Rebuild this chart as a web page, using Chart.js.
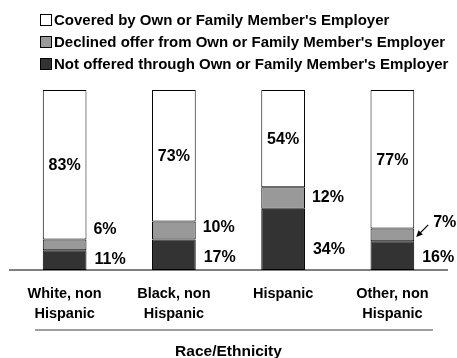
<!DOCTYPE html>
<html>
<head>
<meta charset="utf-8">
<script src="https://cdn.jsdelivr.net/npm/chart.js@4.4.1/dist/chart.umd.min.js"></script>
<style>
  html, body { margin: 0; padding: 0; background: #fff; }
</style>
</head>
<body>
<canvas id="chart" width="457" height="358"></canvas>
<script>
// coverage by race / ethnicity, percent
const categories = [['White, non', 'Hispanic'], ['Black, non', 'Hispanic'], 'Hispanic', ['Other, non', 'Hispanic']];
const notOffered = [11, 17, 34, 16];
const declined = [6, 10, 12, 7];
const covered = [83, 73, 54, 77];
const seriesNames = [
  "Covered by Own or Family Member's Employer",
  "Declined offer from Own or Family Member's Employer",
  "Not offered through Own or Family Member's Employer"
];
const arrowFor = [3]; // small segment whose label needs a pointer

const FONT = "'Liberation Sans', Arial, Helvetica, sans-serif";
const WHITE = '#ffffff', GRAY = '#999999', DARK = '#333333';

// legend block at the top, one row per series
const legendRows = {
  id: 'legendRows',
  afterDraw(chart) {
    const ctx = chart.ctx;
    const colors = [WHITE, GRAY, DARK];
    ctx.save();
    ctx.font = 'bold 15px ' + FONT;
    ctx.textBaseline = 'middle';
    seriesNames.forEach((name, i) => {
      const y = 20 + i * 22;
      ctx.fillStyle = colors[i];
      ctx.fillRect(40.5, y - 5.5, 11, 11);
      ctx.strokeStyle = '#000';
      ctx.lineWidth = 1;
      ctx.strokeRect(40.5, y - 5.5, 11, 11);
      ctx.fillStyle = '#000';
      ctx.fillText(name, 54, y + 1);
    });
    ctx.restore();
  }
};

// percent labels: inside the top segment, to the right of the lower two
const valueLabels = {
  id: 'valueLabels',
  afterDatasetsDraw(chart) {
    const ctx = chart.ctx;
    const dark = chart.getDatasetMeta(0).data;
    const gray = chart.getDatasetMeta(1).data;
    const white = chart.getDatasetMeta(2).data;
    ctx.save();
    ctx.font = 'bold 16px ' + FONT;
    ctx.fillStyle = '#000';
    ctx.textBaseline = 'middle';
    categories.forEach((c, i) => {
      const w = white[i];
      ctx.textAlign = 'center';
      ctx.fillText(covered[i] + '%', w.x, (w.y + w.base) / 2 + 1);

      const d = dark[i], g = gray[i];
      const right = d.x + d.width / 2;
      const dy = ((d.y + d.base) / 2 + d.base - 10) / 2;
      let gy = (g.y + g.base) / 2;
      if (dy - gy < 30) gy = dy - 30;
      const arrow = arrowFor.includes(i);
      if (arrow) gy -= 5;
      const gx = right + (arrow ? 19 : 7);
      ctx.textAlign = 'left';
      ctx.fillText(notOffered[i] + '%', right + 8, dy);
      ctx.fillText(declined[i] + '%', gx, gy);

      if (arrow) {
        const x0 = gx - 5, y0 = gy + 2;
        const x1 = right + 2, y1 = (g.y + g.base) / 2 + 2;
        const a = Math.atan2(y1 - y0, x1 - x0);
        ctx.strokeStyle = '#000';
        ctx.lineWidth = 1.2;
        ctx.beginPath();
        ctx.moveTo(x0, y0);
        ctx.lineTo(x1 - 4 * Math.cos(a), y1 - 4 * Math.sin(a));
        ctx.stroke();
        ctx.beginPath();
        ctx.moveTo(x1, y1);
        ctx.lineTo(x1 - 7 * Math.cos(a - 0.45), y1 - 7 * Math.sin(a - 0.45));
        ctx.lineTo(x1 - 7 * Math.cos(a + 0.45), y1 - 7 * Math.sin(a + 0.45));
        ctx.closePath();
        ctx.fill();
      }
    });
    ctx.restore();
  }
};

// rule between the category labels and the axis title
const titleRule = {
  id: 'titleRule',
  afterDraw(chart) {
    const ctx = chart.ctx;
    const area = chart.chartArea;
    ctx.save();
    ctx.strokeStyle = '#808080';
    ctx.lineWidth = 1.5;
    ctx.beginPath();
    ctx.moveTo(area.left + 25, 330);
    ctx.lineTo(area.right - 14, 330);
    ctx.stroke();
    ctx.restore();
  }
};

new Chart(document.getElementById('chart'), {
  type: 'bar',
  data: {
    labels: categories,
    datasets: [
      { label: seriesNames[2], data: notOffered, backgroundColor: DARK },
      { label: seriesNames[1], data: declined, backgroundColor: GRAY },
      { label: seriesNames[0], data: covered, backgroundColor: WHITE }
    ]
  },
  options: {
    responsive: false,
    animation: false,
    events: [],
    layout: { padding: { top: 90, left: 10, right: 10, bottom: 0 } },
    datasets: {
      bar: {
        borderColor: '#000',
        borderWidth: 1,
        borderSkipped: false,
        categoryPercentage: 0.4,
        barPercentage: 1
      }
    },
    plugins: {
      legend: { display: false },
      tooltip: { enabled: false }
    },
    scales: {
      x: {
        stacked: true,
        grid: { display: false, drawTicks: false },
        border: { display: true, color: '#808080', width: 2 },
        ticks: {
          color: '#000',
          padding: 14,
          maxRotation: 0,
          font: { family: FONT, size: 14.5, weight: 'bold', lineHeight: 1.38 }
        },
        title: {
          display: true,
          text: 'Race/Ethnicity',
          color: '#000',
          padding: { top: 0, bottom: -3 },
          font: { family: FONT, size: 15.5, weight: 'bold' }
        },
        afterFit(scale) { scale.height = 88; }
      },
      y: {
        stacked: true,
        display: false,
        min: 0,
        max: 100
      }
    }
  },
  plugins: [legendRows, valueLabels, titleRule]
});
</script>
</body>
</html>
